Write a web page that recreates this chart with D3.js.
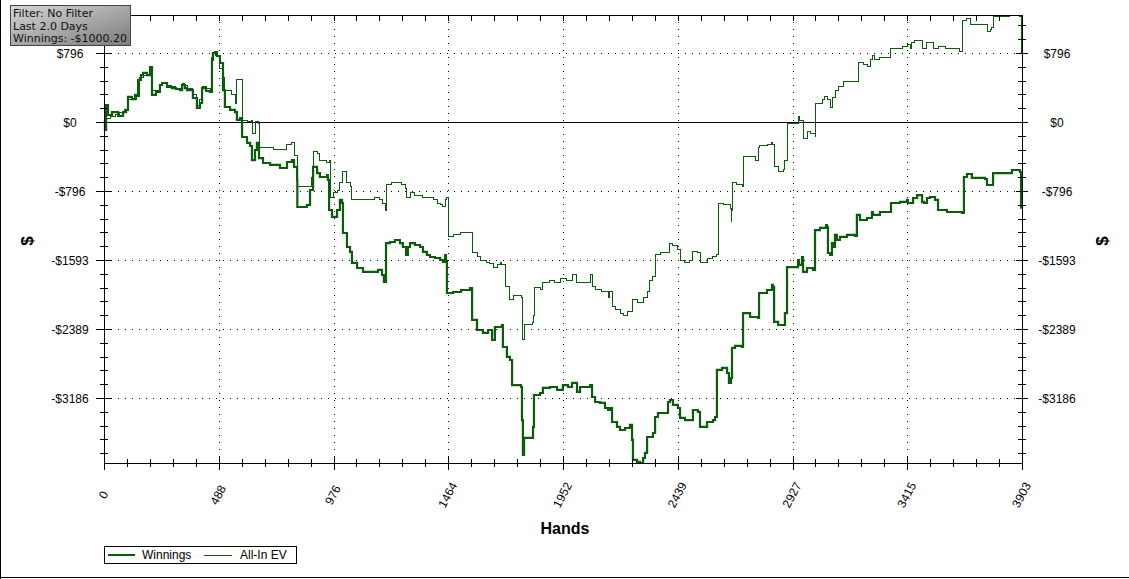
<!DOCTYPE html>
<html><head><meta charset="utf-8">
<script src="https://cdn.jsdelivr.net/npm/d3@7"></script>
<style>body{margin:0;background:#fff;} svg{display:block;}</style>
</head><body>
<svg id="chart" width="1129" height="579"></svg>
<script>
// ---------- data ----------
const seriesNames = ["Winnings", "All-In EV"];
const filterLines = ["Filter: No Filter", "Last 2.0 Days", "Winnings: -$1000.20"];
const xTitle = "Hands";
const yTitle = "$";

const winHands = [
  0,4,9,17,34,60,81,94,102,119,
  132,145,157,166,183,196,200,204,221,238,
  247,268,289,306,323,332,344,353,378,395,
  408,417,434,451,459,463,472,480,493,506,
  514,536,557,565,578,587,608,621,629,642,
  650,659,676,706,748,778,799,808,821,822,
  846,863,876,889,906,918,935,948,952,957,
  969,991,1003,1012,1016,1033,1046,1054,1076,1101,
  1144,1165,1182,1190,1199,1216,1237,1258,1271,1284,
  1292,1301,1322,1344,1356,1373,1386,1407,1429,1441,
  1450,1454,1458,1484,1518,1556,1565,1586,1611,1633,
  1650,1662,1684,1692,1696,1713,1726,1735,1769,1773,
  1777,1781,1786,1811,1824,1828,1854,1866,1896,1926,
  1951,1973,1990,2011,2024,2067,2075,2088,2109,2130,
  2143,2151,2160,2181,2194,2215,2236,2245,2249,2266,
  2279,2292,2300,2309,2334,2343,2355,2385,2398,2406,
  2419,2440,2449,2470,2491,2504,2525,2534,2564,2589,
  2598,2606,2628,2649,2657,2666,2670,2683,2713,2717,
  2747,2781,2785,2819,2840,2844,2849,2866,2887,2895,
  2900,2904,2938,2951,2955,2968,2972,2989,3002,3014,
  3023,3044,3070,3074,3078,3087,3095,3099,3108,3116,
  3129,3159,3193,3201,3214,3244,3265,3269,3299,3337,
  3346,3384,3414,3418,3440,3457,3469,3478,3486,3499,
  3512,3533,3542,3546,3584,3618,3648,3652,3656,3669,
  3690,3746,3754,3771,3780,3809,3839,3860,3886,3894,
  3899,3903];
const winValues = [
  23,-92,196,81,115,69,115,139,289,265,
  312,485,542,566,542,635,635,312,346,427,
  450,404,392,381,369,427,392,369,277,162,
  219,392,358,346,716,796,808,762,681,369,
  173,139,115,23,46,-173,-242,-277,-439,-323,
  -242,-416,-473,-496,-531,-462,-439,-519,-669,-981,
  -981,-958,-785,-519,-589,-635,-635,-612,-669,-1016,
  -1096,-1016,-900,-935,-1281,-1443,-1500,-1627,-1685,-1731,
  -1731,-1708,-1766,-1847,-1397,-1385,-1362,-1397,-1443,-1535,
  -1443,-1397,-1420,-1443,-1500,-1535,-1558,-1570,-1593,-1616,
  -1535,-1616,-1974,-1962,-1939,-1916,-2285,-2401,-2435,-2401,
  -2516,-2366,-2366,-2343,-2597,-2712,-2747,-3036,-3036,-3059,
  -3440,-3843,-3647,-3647,-3520,-3151,-3128,-3070,-3059,-3093,
  -3036,-3059,-3012,-3116,-3059,-3036,-3174,-3232,-3243,-3301,
  -3324,-3301,-3463,-3520,-3555,-3532,-3497,-3670,-3901,-3924,
  -3936,-3878,-3820,-3636,-3590,-3405,-3359,-3359,-3232,-3209,
  -3266,-3301,-3416,-3440,-3440,-3324,-3347,-3520,-3463,-3440,
  -3405,-2862,-2839,-2897,-3012,-2955,-2608,-2585,-2597,-2205,
  -2251,-2262,-1974,-1939,-1881,-1904,-2308,-2343,-2343,-2205,
  -2205,-1674,-1674,-1593,-1650,-1558,-1731,-1685,-1685,-1708,
  -1247,-1223,-1189,-1212,-1512,-1535,-1397,-1443,-1304,-1362,
  -1327,-1304,-1316,-1073,-1131,-1108,-1039,-1073,-1039,-1039,
  -935,-923,-900,-935,-877,-843,-843,-923,-935,-877,
  -866,-900,-900,-1016,-1039,-1039,-1050,-1050,-635,-600,
  -646,-658,-727,-727,-589,-589,-589,-554,-554,-577,
  -990,-1000.2];

const evHands = [
  0,9,26,47,68,89,102,123,140,153,
  166,183,196,200,204,221,238,247,268,289,
  306,323,332,344,353,378,395,408,417,434,
  451,459,463,476,489,502,514,544,557,561,
  565,578,582,587,608,629,633,642,659,663,
  693,719,748,778,799,808,812,821,846,867,
  884,889,906,918,931,944,957,961,974,991,
  1003,1016,1025,1033,1046,1054,1076,1118,1152,1173,
  1186,1195,1199,1224,1250,1263,1280,1288,1301,1322,
  1356,1378,1399,1416,1429,1441,1454,1458,1463,1484,
  1514,1556,1565,1586,1599,1628,1641,1654,1671,1684,
  1692,1705,1726,1739,1769,1777,1781,1786,1820,1824,
  1832,1854,1866,1896,1917,1939,1968,1990,2011,2024,
  2067,2075,2088,2117,2143,2151,2160,2173,2194,2207,
  2224,2245,2249,2270,2292,2309,2321,2334,2343,2364,
  2394,2406,2419,2440,2449,2470,2491,2504,2525,2534,
  2564,2589,2602,2611,2632,2662,2666,2670,2674,2691,
  2713,2717,2747,2768,2781,2789,2819,2840,2844,2849,
  2866,2887,2895,2904,2908,2938,2951,2959,2968,2972,
  2989,3002,3023,3027,3053,3065,3078,3087,3099,3108,
  3121,3142,3155,3201,3206,3227,3248,3257,3269,3278,
  3299,3329,3342,3346,3376,3397,3418,3427,3435,3448,
  3469,3478,3482,3499,3512,3525,3546,3576,3597,3627,
  3639,3648,3652,3669,3682,3724,3754,3758,3771,3775,
  3780,3809,3831,3848,3886,3894,3899,3903];
const evValues = [
  -12,46,58,92,115,139,254,265,289,508,
  542,531,623,623,369,369,427,450,416,404,
  392,392,439,416,392,323,196,254,404,381,
  369,739,796,773,623,519,369,312,219,219,
  485,496,485,23,0,23,-127,0,-12,-289,
  -289,-323,-323,-265,-242,-323,-381,-750,-750,-739,
  -635,-346,-358,-439,-439,-473,-439,-866,-819,-785,
  -693,-577,-577,-693,-750,-900,-900,-889,-866,-900,
  -935,-1016,-727,-704,-693,-727,-762,-877,-819,-843,
  -866,-877,-900,-935,-958,-981,-900,-866,-1327,-1304,
  -1281,-1270,-1512,-1558,-1593,-1616,-1639,-1674,-1650,-1627,
  -1650,-1904,-2054,-1997,-1997,-2020,-2516,-2343,-2320,-2228,
  -1916,-1939,-1858,-1824,-1858,-1801,-1824,-1766,-1858,-1847,
  -1766,-1904,-1939,-1962,-2020,-1962,-2135,-2170,-2205,-2228,
  -2193,-2135,-2054,-2078,-2031,-1962,-1824,-1789,-1535,-1512,
  -1512,-1397,-1420,-1477,-1593,-1616,-1604,-1500,-1512,-1627,
  -1570,-1558,-1535,-935,-958,-993,-1154,-1016,-704,-727,
  -750,-404,-404,-439,-300,-277,-265,-231,-254,-519,
  -577,-554,-439,-416,-12,-12,58,12,23,-185,
  -115,-127,-173,219,254,289,254,162,277,369,
  404,462,473,473,681,658,635,716,773,716,
  750,750,739,854,854,877,889,854,912,935,
  946,866,854,912,912,854,877,854,854,843,
  808,808,1177,1189,1131,1131,1131,1050,1062,1085,
  1223,1212,1223,1235,1235,1223,796,796];

const xTickValues = [0, 487.9, 975.8, 1463.6, 1951.5, 2439.4, 2927.3, 3415.1, 3903];
const xTickLabels = ["0", "488", "976", "1464", "1952", "2439", "2927", "3415", "3903"];
const yTickValues = [796.4, 0, -796.4, -1592.8, -2389.2, -3185.6];
const yTickLabels = ["$796", "$0", "-$796", "-$1593", "-$2389", "-$3186"];

// ---------- layout ----------
const plot = {left: 104, right: 1022, top: 15, bottom: 463};
const lineColor = "#0b5c0b";
const svg = d3.select("#chart");

const x = d3.scaleLinear().domain([0, 3903]).range([plot.left, plot.right]);
const y = d3.scaleLinear().domain(d3.extent(winValues.concat(evValues))).range([plot.bottom, plot.top]);

const xMinor = d3.range(0, 41).filter(i => i % 5 !== 0).map(i => i * 3903 / 40);
const yStep = 796.4 / 5;
const yMinor = d3.range(Math.ceil(y.domain()[0] / yStep), Math.floor(y.domain()[1] / yStep) + 1)
  .filter(k => k % 5 !== 0).map(k => k * yStep);

const px = v => Math.round(x(v)) + 0.5;
const py = v => Math.round(y(v)) + 0.5;

// outer frame (left & bottom)
svg.append("line").attr("x1", 0.5).attr("x2", 0.5).attr("y1", 0).attr("y2", 579)
  .attr("stroke", "#000").attr("stroke-width", 1);
svg.append("line").attr("x1", 0).attr("x2", 1129).attr("y1", 577.5).attr("y2", 577.5)
  .attr("stroke", "#000").attr("stroke-width", 1);

// gridlines
const grid = svg.append("g").attr("shape-rendering", "crispEdges");
grid.selectAll("line.gx").data(xTickValues.slice(1, -1)).join("line")
  .attr("x1", d => px(d)).attr("x2", d => px(d))
  .attr("y1", plot.top).attr("y2", plot.bottom)
  .attr("stroke", "#000").attr("stroke-dasharray", "1,6");
grid.selectAll("line.gy").data(yTickValues.filter(d => d !== 0)).join("line")
  .attr("x1", plot.left).attr("x2", plot.right)
  .attr("y1", d => py(d)).attr("y2", d => py(d))
  .attr("stroke", "#000").attr("stroke-dasharray", "1,6");
grid.append("line").attr("x1", plot.left).attr("x2", plot.right)
  .attr("y1", py(0)).attr("y2", py(0)).attr("stroke", "#000");

// series (step lines, as in the original chart)
const winData = winHands.map((h, i) => [h, winValues[i]]);
const evData = evHands.map((h, i) => [h, evValues[i]]);
const line = d3.line().curve(d3.curveStepAfter).x(d => x(d[0])).y(d => y(d[1]));
svg.append("path").datum(winData).attr("d", line)
  .attr("fill", "none").attr("stroke", lineColor).attr("stroke-width", 2.2)
  .attr("stroke-linejoin", "miter");
svg.append("path").datum(evData).attr("d", line)
  .attr("fill", "none").attr("stroke", lineColor).attr("stroke-width", 1)
  .attr("stroke-linejoin", "miter").attr("shape-rendering", "crispEdges");

// axes
const font = "'Liberation Sans', Arial, sans-serif";
function styleAxis(g) {
  g.selectAll("path.domain").attr("stroke", "#000");
  g.selectAll(".tick line").attr("stroke", "#000");
  g.selectAll("text").attr("font-family", font).attr("font-size", 12).attr("fill", "#000");
  g.attr("shape-rendering", "crispEdges");
}
// left
const gL = svg.append("g").attr("transform", `translate(${plot.left},0)`)
  .call(d3.axisLeft(y).tickValues(yTickValues).tickFormat((d, i) => yTickLabels[i]).tickSizeInner(8).tickSizeOuter(0).tickPadding(0));
gL.selectAll(".tick line").attr("x1", 7);
gL.selectAll(".tick text").attr("x", -34).attr("text-anchor", "middle").attr("dy", "0.35em");
styleAxis(gL);
const gL2 = svg.append("g").attr("transform", `translate(${plot.left},0)`)
  .call(d3.axisLeft(y).tickValues(yMinor).tickFormat("").tickSize(4));
gL2.select(".domain").remove();
gL2.selectAll(".tick line").attr("x1", 4);
styleAxis(gL2);
// right
const gR = svg.append("g").attr("transform", `translate(${plot.right},0)`)
  .call(d3.axisRight(y).tickValues(yTickValues).tickFormat((d, i) => yTickLabels[i]).tickSizeInner(6).tickSizeOuter(0).tickPadding(0));
gR.selectAll(".tick line").attr("x1", -6);
gR.selectAll(".tick text").attr("x", 35).attr("text-anchor", "middle").attr("dy", "0.35em");
styleAxis(gR);
const gR2 = svg.append("g").attr("transform", `translate(${plot.right},0)`)
  .call(d3.axisRight(y).tickValues(yMinor).tickFormat("").tickSize(4));
gR2.select(".domain").remove();
gR2.selectAll(".tick line").attr("x1", -4);
styleAxis(gR2);
// bottom
const gB = svg.append("g").attr("transform", `translate(0,${plot.bottom})`)
  .call(d3.axisBottom(x).tickValues(xTickValues).tickFormat((d, i) => xTickLabels[i]).tickSizeInner(7).tickSizeOuter(0));
gB.selectAll(".tick line").attr("y1", d => d === 0 ? 0 : -6);
gB.selectAll(".tick text").attr("x", 0).attr("y", 0).attr("dy", null)
  .attr("dominant-baseline", "central").attr("text-anchor", "middle")
  .attr("transform", "translate(-1,32) rotate(-62)");
styleAxis(gB);
const gB2 = svg.append("g").attr("transform", `translate(0,${plot.bottom})`)
  .call(d3.axisBottom(x).tickValues(xMinor).tickFormat("").tickSize(4));
gB2.select(".domain").remove();
gB2.selectAll(".tick line").attr("y1", -4);
styleAxis(gB2);
// top
const gT = svg.append("g").attr("transform", `translate(0,${plot.top})`)
  .call(d3.axisTop(x).tickValues(xTickValues.concat(xMinor)).tickFormat("").tickSizeInner(-6).tickSizeOuter(0));
styleAxis(gT);

// axis titles
svg.append("text").attr("x", (plot.left + plot.right) / 2 + 2).attr("y", 534)
  .attr("text-anchor", "middle").attr("font-family", font).attr("font-weight", "bold")
  .attr("font-size", 16).text(xTitle);
[27, 1102].forEach(cx => {
  svg.append("text").attr("transform", `translate(${cx},${241}) rotate(-90)`)
    .attr("text-anchor", "middle").attr("dominant-baseline", "central")
    .attr("font-family", font).attr("font-weight", "bold").attr("font-size", 17)
    .text(yTitle);
});

// legend
const leg = svg.append("g");
leg.append("rect").attr("x", 104.5).attr("y", 546.5).attr("width", 192).attr("height", 17)
  .attr("fill", "#fff").attr("stroke", "#000").attr("shape-rendering", "crispEdges");
const legItems = [
  {name: seriesNames[0], x1: 108, x2: 135, tx: 142, w: 2.2},
  {name: seriesNames[1], x1: 204, x2: 232, tx: 240, w: 1}
];
legItems.forEach(it => {
  leg.append("line").attr("x1", it.x1).attr("x2", it.x2).attr("y1", 555).attr("y2", 555)
    .attr("stroke", lineColor).attr("stroke-width", it.w).attr("shape-rendering", "crispEdges");
  leg.append("text").attr("x", it.tx).attr("y", 555).attr("dy", "0.35em")
    .attr("font-family", font).attr("font-size", 12).attr("fill", "#000").text(it.name);
});

// filter box
const defs = svg.append("defs");
const grad = defs.append("linearGradient").attr("id", "boxGrad")
  .attr("x1", "0%").attr("y1", "0%").attr("x2", "100%").attr("y2", "100%");
grad.append("stop").attr("offset", "0%").attr("stop-color", "#d6d6d6");
grad.append("stop").attr("offset", "100%").attr("stop-color", "#7c7c7c");
svg.append("rect").attr("x", 10.5).attr("y", 5.5).attr("width", 120).attr("height", 40)
  .attr("fill", "url(#boxGrad)").attr("stroke", "#444").attr("shape-rendering", "crispEdges");
filterLines.forEach((t, i) => {
  svg.append("text").attr("x", 13).attr("y", 17 + i * 12.5)
    .attr("font-family", "'DejaVu Sans', Verdana, sans-serif").attr("font-size", 11)
    .attr("fill", "#111").text(t);
});
</script>
</body></html>
